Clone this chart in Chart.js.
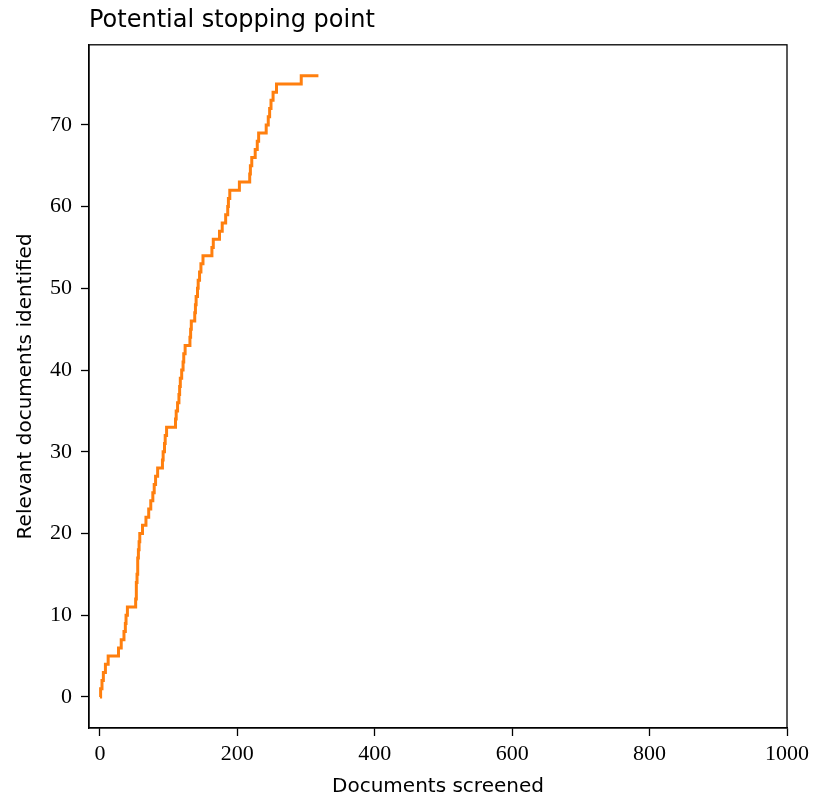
<!DOCTYPE html>
<html>
<head>
<meta charset="utf-8">
<script src="https://cdn.jsdelivr.net/npm/chart.js@4.4.1/dist/chart.umd.min.js"></script>
<style>
  body { margin: 0; background: #fff; }
  #wrap { width: 815px; height: 799px; }
</style>
</head>
<body>
<div id="wrap"><canvas id="chart"></canvas></div>
<script>
// documents screened at which the relevant count goes up, and the count after it
const docsScreened = [0, 1, 3, 5, 8, 12, 27, 31, 35, 37, 38, 40, 52, 53, 53, 54, 55, 55, 56, 57, 58,
    62, 67, 71, 74, 77, 79, 81, 84, 91, 92, 94, 95, 97, 110, 111, 113, 115, 116, 117, 119,
    121, 122, 124, 131, 132, 133, 138, 139, 140, 142, 143, 145, 147, 150, 163, 165, 174, 178,
    183, 186, 187, 189, 203, 218, 219, 221, 226, 229, 231, 242, 245, 247, 249, 252, 257, 293, 318];
const relevantFound = [0, 1, 2, 3, 4, 5, 6, 7, 8, 9, 10, 11, 12, 13, 14, 15, 16, 17, 18, 19, 20,
    21, 22, 23, 24, 25, 26, 27, 28, 29, 30, 31, 32, 33, 34, 35, 36, 37, 38, 39, 40,
    41, 42, 43, 44, 45, 46, 47, 48, 49, 50, 51, 52, 53, 54, 55, 56, 57, 58,
    59, 60, 61, 62, 63, 64, 65, 66, 67, 68, 69, 70, 71, 72, 73, 74, 75, 76, 76];

const xTicks = [0, 200, 400, 600, 800, 1000];
const yTicks = [0, 10, 20, 30, 40, 50, 60, 70];

const serif = "'Liberation Serif', serif";
const sans = "'DejaVu Sans', sans-serif";

// draws the top and right spines too
const frame = {
    id: 'frame',
    afterDatasetsDraw(chart) {
        const {ctx, chartArea: a} = chart;
        ctx.save();
        ctx.strokeStyle = '#000';
        ctx.lineWidth = 1.3;
        ctx.strokeRect(a.left, a.top, a.right - a.left, a.bottom - a.top);
        ctx.restore();
    }
};

const points = docsScreened.map((d, i) => ({x: d, y: relevantFound[i]}));

new Chart(document.getElementById('chart'), {
    type: 'line',
    data: {
        datasets: [{
            data: points,
            borderColor: '#ff7f0e',
            borderWidth: 3,
            stepped: 'before',
            pointRadius: 0,
            fill: false
        }]
    },
    options: {
        responsive: true,
        maintainAspectRatio: false,
        animation: false,
        layout: { padding: { left: 0, right: 28, top: 0, bottom: 0 } },
        plugins: {
            legend: { display: false },
            tooltip: { enabled: false },
            title: {
                display: true,
                text: 'Potential stopping point',
                align: 'start',
                fullSize: false,
                color: '#000',
                font: { family: sans, size: 24, weight: 'normal' },
                padding: { top: 6, bottom: 10 }
            }
        },
        scales: {
            x: {
                type: 'linear',
                min: -15.9,
                max: 1000,
                afterBuildTicks: axis => { axis.ticks = xTicks.map(v => ({value: v})); },
                afterFit: scale => { scale.height = 71; },
                grid: { display: true, drawOnChartArea: false, drawTicks: true, tickLength: 8, tickColor: '#000', tickWidth: 1.3 },
                border: { display: true, color: '#000', width: 1.3 },
                ticks: { color: '#000', font: { family: serif, size: 22 }, padding: 5, maxRotation: 0, autoSkip: false,
                    callback: v => String(v) },
                title: { display: true, text: 'Documents screened', color: '#000', font: { family: sans, size: 20 }, padding: { top: 0, bottom: 0 } }
            },
            y: {
                type: 'linear',
                min: -3.8,
                max: 79.8,
                afterBuildTicks: axis => { axis.ticks = yTicks.map(v => ({value: v})); },
                afterFit: scale => { scale.width = 89; },
                grid: { display: true, drawOnChartArea: false, drawTicks: true, tickLength: 8, tickColor: '#000', tickWidth: 1.3 },
                border: { display: true, color: '#000', width: 1.3 },
                ticks: { color: '#000', font: { family: serif, size: 22 }, padding: 9, autoSkip: false,
                    callback: v => String(v) },
                title: { display: true, text: 'Relevant documents identified', color: '#000', font: { family: sans, size: 20 }, padding: { top: 14, bottom: 0 } }
            }
        }
    },
    plugins: [frame]
});
</script>
</body>
</html>
